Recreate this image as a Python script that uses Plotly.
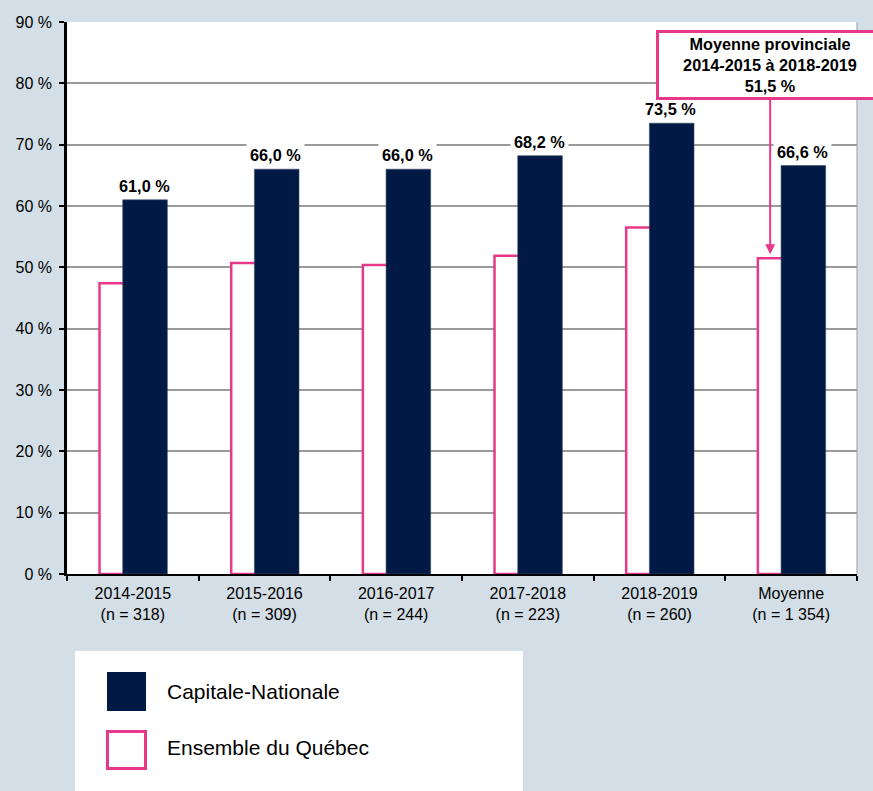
import plotly.graph_objects as go

# ---- data ----
categories = ["2014-2015<br>(n = 318)", "2015-2016<br>(n = 309)", "2016-2017<br>(n = 244)",
              "2017-2018<br>(n = 223)", "2018-2019<br>(n = 260)", "Moyenne<br>(n = 1 354)"]
capitale = [61.0, 66.0, 66.0, 68.2, 73.5, 66.6]
quebec = [47.4, 50.7, 50.4, 51.9, 56.5, 51.5]
series_names = ["Capitale-Nationale", "Ensemble du Québec"]
y_tickvals = [0, 10, 20, 30, 40, 50, 60, 70, 80, 90]
y_ticktext = [f"{v} %" for v in y_tickvals]
avg_note = ["Moyenne provinciale", "2014-2015 à 2018-2019", "51,5 %"]

# ---- style ----
W, H = 873, 791
L, R, T, B = 67, 16, 22, 217
NAVY = "#001A45"
PINK = "#E8388A"
BG = "#D3DEE6"
GRID = "#9A9A9A"
FONT = "Liberation Sans, Arial, sans-serif"

plot_w = W - L - R
plot_h = H - T - B
cat_px = plot_w / len(categories)
bar_w = 44.6 / cat_px
navy_off = -10.1 / cat_px
pink_off = -33.3 / cat_px

def fmt(v):
    return f"{v:.1f}".replace(".", ",") + " %"

fig = go.Figure()
fig.add_trace(go.Bar(
    x=categories, y=quebec, name=series_names[1],
    offset=pink_off, width=bar_w,
    marker=dict(color="white", line=dict(color=PINK, width=2.5)),
    showlegend=False, hoverinfo="skip"))
fig.add_trace(go.Bar(
    x=categories, y=capitale, name=series_names[0],
    offset=navy_off, width=bar_w,
    marker=dict(color=NAVY, line=dict(color="#3A4A66", width=0.6)),
    showlegend=False, hoverinfo="skip"))

annotations = []
label_shift = (navy_off + bar_w / 2) * cat_px
for c, v in zip(categories, capitale):
    annotations.append(dict(
        x=c, y=v, xref="x", yref="y", text=f"<b>{fmt(v)}</b>",
        showarrow=False, xshift=label_shift - 1, yanchor="bottom", yshift=1,
        bgcolor="white", borderpad=3,
        font=dict(family=FONT, size=16.3, color="black")))

# provincial average callout with arrow
pink_center_shift = (pink_off + bar_w / 2) * cat_px
annotations.append(dict(
    x=categories[-1], y=quebec[-1], xref="x", yref="y",
    xshift=pink_center_shift - 10,
    text="<b>" + "<br>".join(avg_note) + "</b>",
    showarrow=True, arrowhead=2, arrowsize=1, arrowwidth=2, arrowcolor=PINK,
    ax=0, ay=-193, standoff=4,
    bgcolor="white", bordercolor=PINK, borderwidth=3, borderpad=2,
    width=218, height=60, align="center",
    font=dict(family=FONT, size=16.3, color="black")))

# manual legend
def px_x(px):
    return (px - L) / plot_w

def px_y(py):
    return (H - B - py) / plot_h

shapes = [
    dict(type="rect", xref="paper", yref="paper",
         x0=px_x(75), x1=px_x(523), y0=px_y(800), y1=px_y(651),
         fillcolor="white", line=dict(width=0), layer="above"),
    dict(type="rect", xref="paper", yref="paper",
         x0=px_x(107), x1=px_x(146), y0=px_y(711), y1=px_y(672),
         fillcolor=NAVY, line=dict(width=0), layer="above"),
    dict(type="rect", xref="paper", yref="paper",
         x0=px_x(107.5), x1=px_x(145.5), y0=px_y(768.5), y1=px_y(731.5),
         fillcolor="white", line=dict(color=PINK, width=3), layer="above"),
    dict(type="line", xref="paper", yref="paper", x0=1, x1=1, y0=0, y1=1,
         line=dict(color="#B8B8B8", width=1.5), layer="below"),
]
annotations.append(dict(x=px_x(165), y=px_y(691), xref="paper", yref="paper",
                        text=series_names[0], showarrow=False, xanchor="left", yanchor="middle",
                        font=dict(family=FONT, size=21, color="black")))
annotations.append(dict(x=px_x(165), y=px_y(747), xref="paper", yref="paper",
                        text=series_names[1], showarrow=False, xanchor="left", yanchor="middle",
                        font=dict(family=FONT, size=21, color="black")))

fig.update_layout(
    width=W, height=H,
    margin=dict(l=L, r=R, t=T, b=B, pad=0),
    paper_bgcolor=BG, plot_bgcolor="white",
    barmode="overlay",
    font=dict(family=FONT, size=16, color="black"),
    annotations=annotations, shapes=shapes,
    showlegend=False,
)
fig.update_xaxes(
    type="category", showgrid=False, showline=True, linecolor="black", linewidth=2,
    ticks="outside", tickson="boundaries", ticklen=5, tickwidth=2, tickcolor="black",
    ticklabelstandoff=4,
    tickfont=dict(family=FONT, size=16, color="black"), range=[-0.5, len(categories) - 0.5])
fig.update_yaxes(
    range=[0, 90], tickvals=y_tickvals, ticktext=y_ticktext,
    showgrid=True, gridcolor=GRID, gridwidth=2, zeroline=False,
    showline=True, linecolor="black", linewidth=2.5,
    ticks="outside", ticklen=5, tickwidth=2, tickcolor="black",
    ticklabelstandoff=4,
    tickfont=dict(family=FONT, size=16, color="black"))

fig.write_html("out.html", config={"displayModeBar": False},
               post_script="document.body.style.margin='0';document.body.style.overflow='hidden';")
